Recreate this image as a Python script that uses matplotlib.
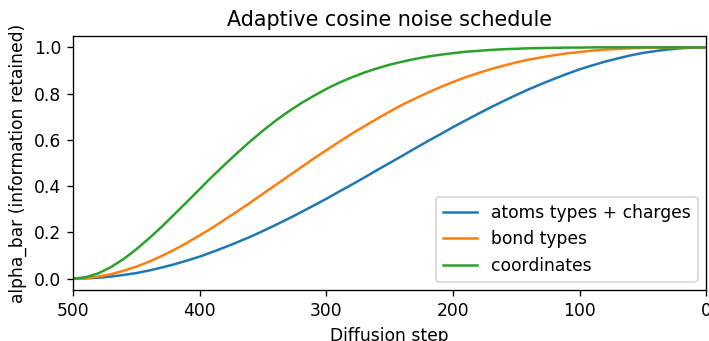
import matplotlib
matplotlib.use("Agg")
import matplotlib.pyplot as plt

plt.rcParams["font.size"] = 10.3

# diffusion steps (read every 10 steps)
steps = list(range(0, 501, 10))

atoms = [1.000, 0.999, 0.996, 0.991, 0.984, 0.976, 0.965, 0.952, 0.938, 0.922,
         0.905, 0.885, 0.864, 0.842, 0.819, 0.794, 0.768, 0.741, 0.713, 0.684,
         0.655, 0.624, 0.594, 0.563, 0.531, 0.500, 0.469, 0.437, 0.406, 0.376,
         0.345, 0.316, 0.287, 0.259, 0.232, 0.206, 0.181, 0.158, 0.136, 0.115,
         0.095, 0.078, 0.062, 0.048, 0.035, 0.024, 0.016, 0.009, 0.004, 0.001,
         0.000]

bonds = [1.000, 1.000, 1.000, 0.999, 0.999, 0.998, 0.996, 0.993, 0.990, 0.986,
         0.980, 0.974, 0.966, 0.957, 0.947, 0.935, 0.921, 0.906, 0.889, 0.871,
         0.850, 0.828, 0.804, 0.778, 0.752, 0.722, 0.691, 0.659, 0.626, 0.591,
         0.555, 0.519, 0.481, 0.443, 0.405, 0.367, 0.329, 0.292, 0.256, 0.220,
         0.187, 0.155, 0.125, 0.098, 0.073, 0.052, 0.034, 0.019, 0.009, 0.002,
         0.000]

coords = [1.000, 1.000, 1.000, 1.000, 1.000, 1.000, 1.000, 1.000, 1.000, 1.000,
          0.999, 0.999, 0.998, 0.997, 0.996, 0.994, 0.992, 0.989, 0.985, 0.981,
          0.975, 0.968, 0.960, 0.950, 0.938, 0.925, 0.909, 0.891, 0.870, 0.847,
          0.820, 0.790, 0.758, 0.722, 0.683, 0.640, 0.594, 0.545, 0.494, 0.442,
          0.387, 0.332, 0.278, 0.224, 0.174, 0.127, 0.085, 0.050, 0.023, 0.006,
          0.000]

labels = ["atoms types + charges", "bond types", "coordinates"]

fig = plt.figure(figsize=(709 / 120, 341 / 120), dpi=120)
ax = fig.add_axes([0.103, 0.149, 0.893, 0.746])

for series, label in zip([atoms, bonds, coords], labels):
    ax.plot(steps, series, label=label)

ax.set_xlim(500, 0)
ax.set_title("Adaptive cosine noise schedule")
ax.set_xlabel("Diffusion step")
ax.set_ylabel("alpha_bar (information retained)")
ax.legend(loc="lower right")

fig.savefig("out.png", dpi=120)
